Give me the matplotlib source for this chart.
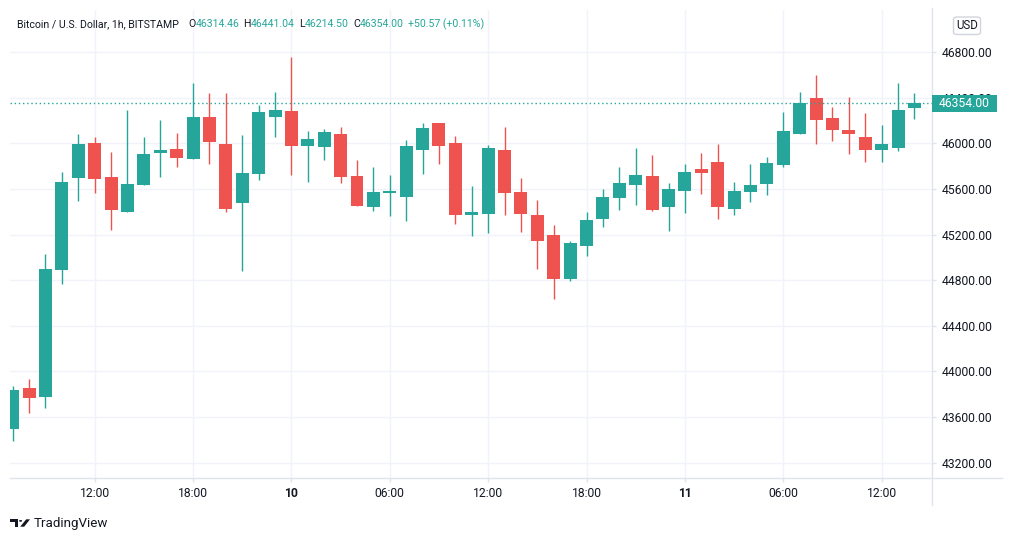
import matplotlib
matplotlib.use("Agg")
import matplotlib.pyplot as plt
from matplotlib.patches import Rectangle, FancyBboxPatch, Polygon, Circle
from matplotlib.lines import Line2D

# ---------------- data ----------------
opens = [43495, 43854, 43775, 44890, 45697, 46004, 45706, 45399, 45635, 45916,
         45952, 45864, 46232, 45995, 45478, 45732, 46232, 46285, 45978, 45969,
         46083, 45715, 45443, 45565, 45530, 45943, 46180, 46004, 45372, 45381,
         45943, 45574, 45372, 45197, 44811, 45100, 45337, 45522, 45636, 45717,
         45445, 45585, 45778, 45839, 45428, 45576, 45647, 45813, 46087, 46400,
         46225, 46120, 46058, 45944, 45962, 46314.46]
highs = [43872, 43933, 45030, 45750, 46083, 46057, 45925, 46294, 46057, 46206,
         46092, 46531, 46443, 46443, 46074, 46337, 46452, 46759, 46109, 46127,
         46145, 45855, 45794, 45723, 46030, 46180, 46181, 46066, 45627, 45987,
         46145, 45697, 45504, 45285, 45144, 45399, 45600, 45794, 45960, 45901,
         45655, 45822, 45918, 45997, 45664, 45822, 45883, 46277, 46452, 46601,
         46321, 46409, 46269, 46163, 46531, 46441.04]
lows = [43392, 43635, 43679, 44767, 45495, 45565, 45240, 45398, 45634, 45706,
        45793, 45863, 45820, 45399, 44881, 45679, 46057, 45723, 45662, 45855,
        45653, 45450, 45407, 45364, 45320, 45732, 45820, 45293, 45188, 45214,
        45372, 45223, 44899, 44635, 44793, 45013, 45267, 45416, 45460, 45410,
        45235, 45393, 45559, 45340, 45375, 45489, 45550, 45795, 46086, 45997,
        46023, 45909, 45839, 45839, 45936, 46214.50]
closes = [43837, 43766, 44898, 45662, 45995, 45688, 45416, 45644, 45908, 45943,
          45872, 46232, 46013, 45425, 45741, 46276, 46294, 45978, 46039, 46100,
          45706, 45451, 45574, 45583, 45978, 46136, 45978, 45372, 45399, 45960,
          45565, 45381, 45144, 44811, 45127, 45329, 45530, 45653, 45723, 45419,
          45603, 45752, 45743, 45445, 45585, 45638, 45831, 46111, 46356, 46207,
          46120, 46087, 45944, 45997, 46295, 46354.00]

y_ticks = [43200, 43600, 44000, 44400, 44800, 45200, 45600, 46000, 46400, 46800]
x_tick_pos = [5, 11, 17, 23, 29, 35, 41, 47, 53]
x_tick_labels = ["12:00", "18:00", "10", "06:00", "12:00", "18:00", "11", "06:00", "12:00"]
bold_labels = ["10", "11"]

title = "Bitcoin / U.S. Dollar, 1h, BITSTAMP"
last_price = 46354.00
change_text = "+50.57 (+0.11%)"

# ---------------- style ----------------
W, H = 1012, 541
UP = "#26a69a"
DOWN = "#ef5350"
GRID = "#f0f3fa"
AXLINE = "#e0e3eb"
TXT = "#131722"
FONT = ["Roboto", "DejaVu Sans"]
plt.rcParams["font.family"] = FONT

fig = plt.figure(figsize=(W / 100, H / 100), dpi=100)
fig.patch.set_facecolor("white")
r = fig.canvas.get_renderer()

def fx(px):
    return px / W

def fy(py):
    return 1 - py / H

left_px, right_px, top_px, bot_px = 10, 932.3, 10, 478.3
ax = fig.add_axes([fx(left_px), fy(bot_px), fx(right_px - left_px), (bot_px - top_px) / H])
ax.set_xlim(-0.165, 56.09)
ax.set_ylim(43062, 47171)
for s in ax.spines.values():
    s.set_visible(False)
ax.set_facecolor("white")

# grid
for yv in y_ticks:
    ax.axhline(yv, color=GRID, lw=1.0, zorder=0)
for xv in x_tick_pos:
    ax.axvline(xv, color=GRID, lw=1.0, zorder=0)

# candles
bw = 0.79
for i, (o, h, l, c) in enumerate(zip(opens, highs, lows, closes)):
    col = UP if c >= o else DOWN
    ax.vlines(i, l, h, color=col, lw=1.0, zorder=2)
    ax.bar(i, max(abs(c - o), 8), bottom=min(o, c), width=bw, color=col,
           edgecolor="none", zorder=3)

# last price dotted line
ax.axhline(last_price, color=UP, lw=1.0, ls=(0, (1, 2)), zorder=4)

# axes ticks
ax.yaxis.tick_right()
ax.set_yticks(y_ticks)
ax.set_yticklabels([f"{v:.2f}" for v in y_ticks])
ax.tick_params(axis="y", length=3, width=1, color=AXLINE, pad=4,
               labelsize=8.7, labelcolor=TXT)
ax.set_xticks(x_tick_pos)
ax.set_xticklabels(x_tick_labels)
ax.tick_params(axis="x", length=3, width=1, color=AXLINE, pad=3,
               labelsize=8.7, labelcolor=TXT)
for lab in ax.get_xticklabels():
    if lab.get_text() in bold_labels:
        lab.set_fontweight("bold")

# axis frame lines (figure level)
fig.add_artist(Line2D([fx(left_px), fx(1002)], [fy(bot_px), fy(bot_px)],
                      color=AXLINE, lw=1.0))
fig.add_artist(Line2D([fx(right_px), fx(right_px)], [fy(8), fy(505)],
                      color=AXLINE, lw=1.0))

# last price label box
box = Rectangle((fx(932.3), fy(112)), fx(996.7 - 932.3), (112 - 94.5) / H,
                facecolor=UP, edgecolor="none", transform=fig.transFigure,
                zorder=10)
fig.add_artist(box)
fig.text(fx(964.5), fy(103.3), f"{last_price:.2f}", color="white", fontsize=8.7,
         ha="center", va="center", zorder=11)

# USD badge
usd = FancyBboxPatch((fx(953.5), fy(34.5)), fx(27), 17.5 / H,
                     boxstyle="round,pad=0,rounding_size=0.004",
                     facecolor="white", edgecolor="#d1d4dc", lw=1.0,
                     transform=fig.transFigure, zorder=10)
fig.add_artist(usd)
fig.text(fx(967), fy(25.5), "USD", color=TXT, fontsize=8.3, ha="center",
         va="center", zorder=11)

# header: fit font so the title spans the same width as in the reference
hy = fy(24)
probe = fig.text(0, 0, title, fontsize=10)
pw = probe.get_window_extent(renderer=r).width
probe.remove()
hs = 10 * 161.0 / pw
fig.text(fx(17), hy, title, color=TXT, fontsize=hs, va="center")
parts = [("O", f"{opens[-1]:.2f}", 188), ("H", f"{highs[-1]:.2f}", 243),
         ("L", f"{lows[-1]:.2f}", 299), ("C", f"{closes[-1]:.2f}", 353)]
for letter, val, xp in parts:
    t = fig.text(fx(xp), hy, letter, color=TXT, fontsize=hs, va="center")
    bb = t.get_window_extent(renderer=r)
    fig.text(fx(bb.x1 + 0.5), hy, val, color=UP, fontsize=hs, va="center")
fig.text(fx(408), hy, change_text, color=UP, fontsize=hs, va="center")

# TradingView logo
logo_col = TXT
def P(pts):
    return Polygon([(fx(a), fy(b)) for a, b in pts], closed=True,
                   facecolor=logo_col, edgecolor="none",
                   transform=fig.transFigure)
fig.add_artist(P([(10, 519.3), (18.3, 519.3), (18.3, 526.7), (14.8, 526.7),
                  (14.8, 522.2), (10, 522.2)]))
fig.add_artist(Circle((fx(20.6), fy(520.9)), 1.6 / W, facecolor=logo_col,
                      edgecolor="none", transform=fig.transFigure))
fig.add_artist(P([(26.2, 519.3), (30, 519.3), (24.2, 526.7), (20.2, 526.7)]))
fig.text(fx(33.5), fy(523.5), "TradingView", color=TXT, fontsize=9.6,
         va="center")

fig.savefig("out.png", dpi=100, facecolor="white")
